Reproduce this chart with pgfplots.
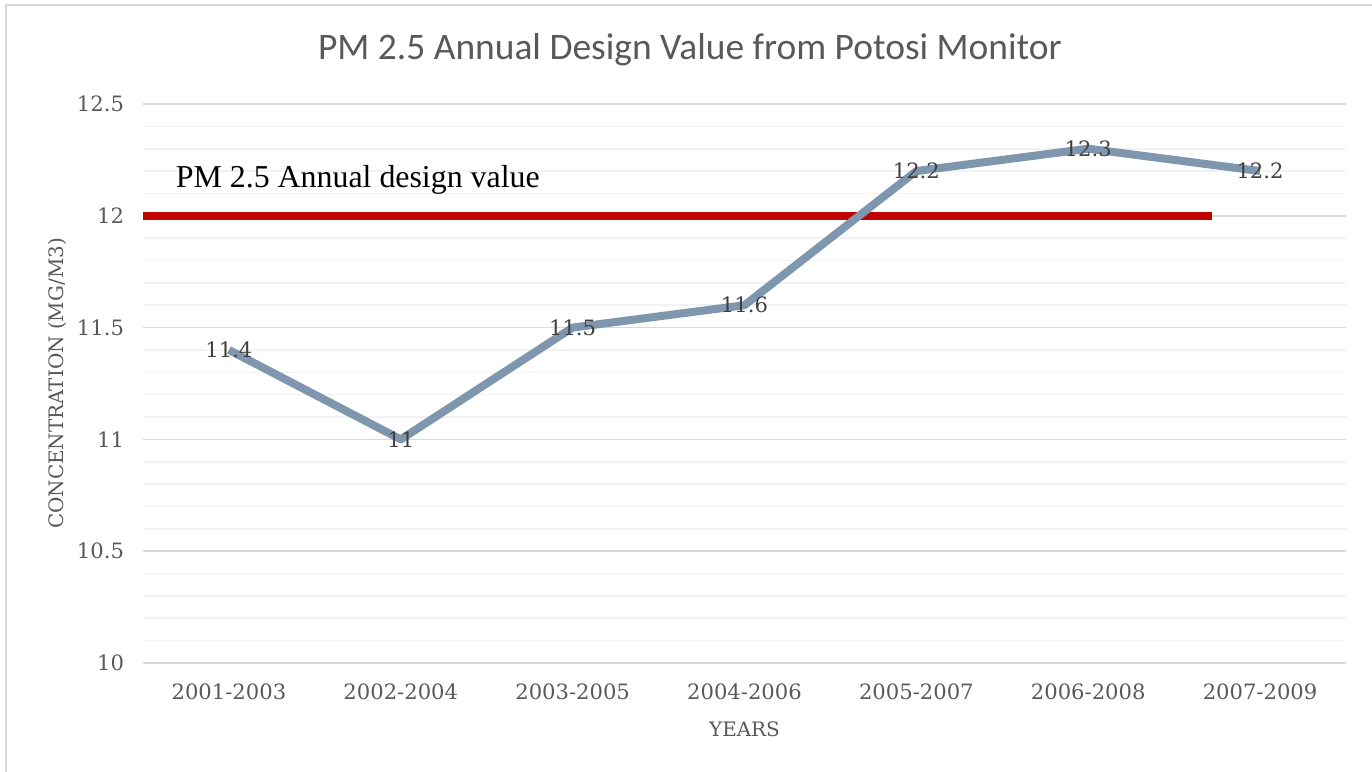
\documentclass[border=0pt]{standalone}
\usepackage{fontspec}
\setmainfont{Liberation Serif}
\newfontfamily\titlefont{Carlito}
\newfontfamily\lblfont{DejaVu Serif}
\usepackage{pgfplots}
\pgfplotsset{compat=1.18}
\definecolor{linegray}{HTML}{7F97AE}
\definecolor{stdred}{HTML}{C00000}
\definecolor{txtgray}{HTML}{595959}
\definecolor{lblgray}{HTML}{404040}
\definecolor{majgrid}{HTML}{D9D9D9}
\definecolor{mingrid}{HTML}{F2F2F2}
\definecolor{framegray}{HTML}{D9D9D9}
\begin{document}
\begin{tikzpicture}
% page box and chart frame
\path[use as bounding box] (0,0) rectangle (686bp,386bp);
\draw[framegray, line width=1bp] (3bp,0) -- (3bp,383.5bp) -- (686bp,383.5bp);
\node[font=\titlefont\fontsize{18.8}{22}\selectfont, text=txtgray] at (345bp,361bp)
  {PM 2.5 Annual Design Value from Potosi Monitor};
\begin{axis}[
  at={(71.5bp,54.5bp)}, anchor=south west,
  scale only axis,
  width=601.5bp, height=279.5bp,
  xmin=-0.5, xmax=6.5,
  ymin=10, ymax=12.5,
  xtick={0,1,2,3,4,5,6},
  xticklabels={2001-2003,2002-2004,2003-2005,2004-2006,2005-2007,2006-2008,2007-2009},
  ytick={10,10.5,11,11.5,12,12.5},
  yticklabels={10,10.5,11,11.5,12,12.5},
  minor y tick num=4,
  ymajorgrids, yminorgrids,
  major grid style={majgrid, line width=0.8bp},
  minor grid style={mingrid, line width=0.8bp},
  axis line style={draw=none},
  major tick length=0pt, minor tick length=0pt,
  tick label style={font=\lblfont\fontsize{10.6}{12}\selectfont, text=txtgray},
  yticklabel style={xshift=-6bp},
  xticklabel style={yshift=-7bp},
  xlabel={YEARS},
  ylabel={CONCENTRATION (MG/M3)},
  label style={font=\lblfont\fontsize{10}{12}\selectfont, text=txtgray},
  xlabel style={yshift=-4bp},
  ylabel style={yshift=-1.5bp},
  nodes near coords,
  every node near coord/.append style={font=\lblfont\fontsize{10.6}{12}\selectfont, text=lblgray, anchor=center},
]
\addplot[stdred, line width=4bp, nodes near coords={}, forget plot] coordinates {(-0.5,12) (5.72,12)};
\addplot[linegray, line width=4bp, line join=round, mark=none,
  nodes near coords, point meta=explicit symbolic] coordinates {
  (0,11.4) [11.4]
  (1,11.0) [11]
  (2,11.5) [11.5]
  (3,11.6) [11.6]
  (4,12.2) [12.2]
  (5,12.3) [12.3]
  (6,12.2) [12.2]
};
\node[anchor=west, font=\fontsize{16}{19}\selectfont, text=black] at (axis cs:-0.35,12.16) {PM 2.5 Annual design value};
\end{axis}
\end{tikzpicture}
\end{document}
